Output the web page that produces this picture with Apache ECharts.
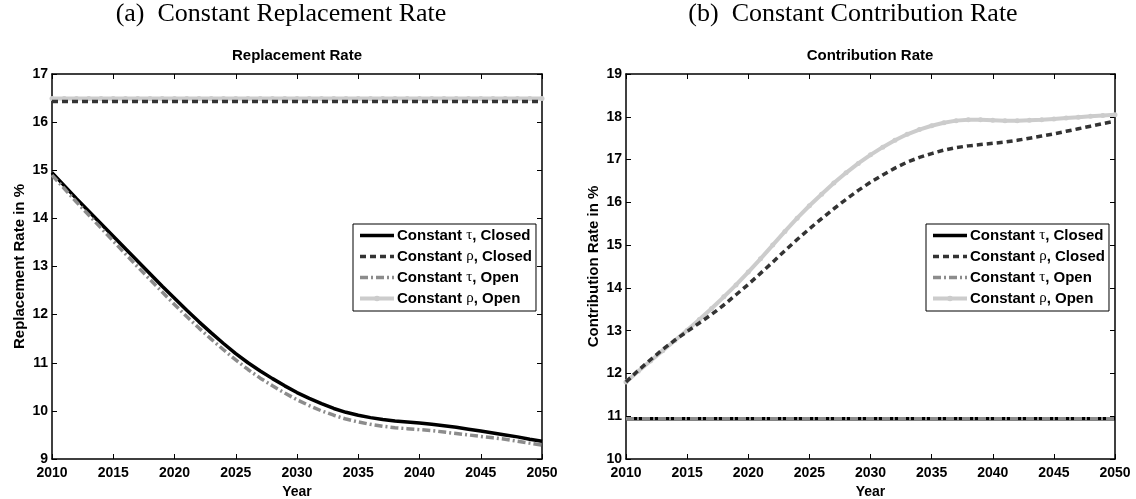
<!DOCTYPE html>
<html lang="en">
<head>
  <meta charset="UTF-8" />
  <title>Replacement and Contribution Rate</title>
  <script src="https://cdn.jsdelivr.net/npm/echarts@6/dist/echarts.min.js"></script>
  <style>
    html, body { margin: 0; padding: 0; background: #fff; }
    #chart { width: 1136px; height: 499px; }
  </style>
</head>
<body>
  <div id="chart"></div>
<script type="text/javascript">
  // years 2010..2050
  var years = [];
  for (var y = 2010; y <= 2050; y++) years.push(y);

  // (a) replacement rate, %
  var repTauClosed = [14.95, 14.68, 14.41, 14.15, 13.89, 13.63, 13.37, 13.11, 12.85, 12.59,
    12.34, 12.09, 11.85, 11.62, 11.40, 11.19, 11.00, 10.83, 10.67, 10.52,
    10.38, 10.26, 10.15, 10.05, 9.97, 9.91, 9.86, 9.82, 9.79, 9.77,
    9.75, 9.72, 9.69, 9.66, 9.62, 9.58, 9.54, 9.50, 9.46, 9.41, 9.37];
  var repRhoClosed = [16.43, 16.43, 16.43, 16.43, 16.43, 16.43, 16.43, 16.43, 16.43, 16.43,
    16.43, 16.43, 16.43, 16.43, 16.43, 16.43, 16.43, 16.43, 16.43, 16.43,
    16.43, 16.43, 16.43, 16.43, 16.43, 16.43, 16.43, 16.43, 16.43, 16.43,
    16.43, 16.43, 16.43, 16.43, 16.43, 16.43, 16.43, 16.43, 16.43, 16.43, 16.43];
  var repTauOpen = [14.90, 14.62, 14.34, 14.07, 13.80, 13.53, 13.26, 12.99, 12.73, 12.47,
    12.21, 11.96, 11.72, 11.49, 11.27, 11.06, 10.86, 10.68, 10.52, 10.37,
    10.23, 10.11, 10.00, 9.91, 9.83, 9.77, 9.72, 9.68, 9.65, 9.63,
    9.61, 9.59, 9.56, 9.53, 9.50, 9.47, 9.44, 9.41, 9.37, 9.33, 9.29];
  var repRhoOpen = [16.49, 16.49, 16.49, 16.49, 16.49, 16.49, 16.49, 16.49, 16.49, 16.49,
    16.49, 16.49, 16.49, 16.49, 16.49, 16.49, 16.49, 16.49, 16.49, 16.49,
    16.49, 16.49, 16.49, 16.49, 16.49, 16.49, 16.49, 16.49, 16.49, 16.49,
    16.49, 16.49, 16.49, 16.49, 16.49, 16.49, 16.49, 16.49, 16.49, 16.49, 16.49];

  // (b) contribution rate, %
  var conTauClosed = [10.94, 10.94, 10.94, 10.94, 10.94, 10.94, 10.94, 10.94, 10.94, 10.94,
    10.94, 10.94, 10.94, 10.94, 10.94, 10.94, 10.94, 10.94, 10.94, 10.94,
    10.94, 10.94, 10.94, 10.94, 10.94, 10.94, 10.94, 10.94, 10.94, 10.94,
    10.94, 10.94, 10.94, 10.94, 10.94, 10.94, 10.94, 10.94, 10.94, 10.94, 10.94];
  var conRhoClosed = [11.80, 12.07, 12.32, 12.56, 12.78, 12.98, 13.18, 13.38, 13.60, 13.84,
    14.08, 14.34, 14.60, 14.87, 15.13, 15.38, 15.62, 15.85, 16.07, 16.28,
    16.47, 16.64, 16.80, 16.94, 17.05, 17.14, 17.22, 17.28, 17.32, 17.35,
    17.38, 17.41, 17.45, 17.50, 17.55, 17.60, 17.66, 17.72, 17.78, 17.84, 17.90];
  var conTauOpen = [10.94, 10.94, 10.94, 10.94, 10.94, 10.94, 10.94, 10.94, 10.94, 10.94,
    10.94, 10.94, 10.94, 10.94, 10.94, 10.94, 10.94, 10.94, 10.94, 10.94,
    10.94, 10.94, 10.94, 10.94, 10.94, 10.94, 10.94, 10.94, 10.94, 10.94,
    10.94, 10.94, 10.94, 10.94, 10.94, 10.94, 10.94, 10.94, 10.94, 10.94, 10.94];
  var conRhoOpen = [11.80, 12.05, 12.29, 12.53, 12.77, 13.01, 13.26, 13.52, 13.79, 14.07,
    14.37, 14.68, 15.00, 15.32, 15.63, 15.92, 16.19, 16.45, 16.69, 16.91,
    17.11, 17.29, 17.45, 17.59, 17.70, 17.79, 17.86, 17.91, 17.93, 17.93,
    17.92, 17.91, 17.91, 17.92, 17.93, 17.95, 17.97, 17.99, 18.01, 18.03, 18.05];

  var names = ['Constant τ, Closed', 'Constant ρ, Closed', 'Constant τ, Open', 'Constant ρ, Open'];

  function pairs(vals) {
    return years.map(function (yr, i) { return [yr, vals[i]]; });
  }

  var sans = 'Liberation Sans, Arial, sans-serif';
  var serif = 'Liberation Serif, Times New Roman, serif';

  // line looks, same order as names
  var looks = [
    { color: '#000000', width: 3.5, type: 'solid', symbol: 'none' },
    { color: '#333333', width: 3.5, type: [6, 4], symbol: 'none' },
    { color: '#8c8c8c', width: 3.5, type: [8, 3, 2, 3], symbol: 'none' },
    { color: '#cccccc', width: 4, type: 'solid', symbol: 'circle' }
  ];

  function makeSeries(idx, sets) {
    return sets.map(function (vals, k) {
      var lk = looks[k];
      return {
        name: names[k],
        type: 'line',
        xAxisIndex: idx * 2,
        yAxisIndex: idx * 2,
        data: pairs(vals),
        symbol: lk.symbol,
        symbolSize: 5,
        showSymbol: lk.symbol !== 'none',
        itemStyle: { color: lk.color },
        lineStyle: { color: lk.color, width: lk.width, type: lk.type },
        z: k === 3 ? 1 : 2 + k,
        animation: false
      };
    });
  }

  function bottomX(gi) {
    return {
      gridIndex: gi, type: 'value', min: 2010, max: 2050, interval: 5,
      name: 'Year', nameLocation: 'middle', nameGap: 26,
      nameTextStyle: { color: '#000', fontWeight: 'bold', fontSize: 14, fontFamily: sans },
      axisLine: { lineStyle: { color: '#000', width: 1.5 } },
      axisTick: { inside: true, length: 5, lineStyle: { color: '#000' } },
      axisLabel: { color: '#000', fontWeight: 'bold', fontSize: 14, fontFamily: sans, margin: 7,
        formatter: function (v) { return String(v); } },
      splitLine: { show: false }
    };
  }
  function topX(gi) {
    return {
      gridIndex: gi, type: 'value', position: 'top', min: 2010, max: 2050, interval: 5,
      axisLine: { lineStyle: { color: '#000', width: 1.5 } },
      axisTick: { inside: true, length: 5, lineStyle: { color: '#000' } },
      axisLabel: { show: false },
      splitLine: { show: false }
    };
  }
  function leftY(gi, lo, hi, label) {
    return {
      gridIndex: gi, type: 'value', min: lo, max: hi, interval: 1,
      name: label, nameLocation: 'middle', nameGap: 25, nameRotate: 90,
      nameTextStyle: { color: '#000', fontWeight: 'bold', fontSize: 15, fontFamily: sans },
      axisLine: { show: true, lineStyle: { color: '#000', width: 1.5 } },
      axisTick: { show: true, inside: true, length: 5, lineStyle: { color: '#000' } },
      axisLabel: { color: '#000', fontWeight: 'bold', fontSize: 14, fontFamily: sans, margin: 4 },
      splitLine: { show: false }
    };
  }
  function rightY(gi, lo, hi) {
    return {
      gridIndex: gi, type: 'value', position: 'right', min: lo, max: hi, interval: 1,
      axisLine: { show: true, lineStyle: { color: '#000', width: 1.5 } },
      axisTick: { show: true, inside: true, length: 5, lineStyle: { color: '#000' } },
      axisLabel: { show: false },
      splitLine: { show: false }
    };
  }

  function makeLegend(left) {
    // only the last entry keeps its marker in the key
    var items = names.map(function (n, k) {
      var it = { name: n, lineStyle: { width: looks[k].width } };
      if (k !== 3) it.itemStyle = { opacity: 0 };
      return it;
    });
    return {
      orient: 'vertical', left: left, top: 224,
      data: items,
      itemWidth: 34, itemHeight: 7, itemGap: 6,
      padding: [4, 4, 5, 5],
      borderColor: '#000', borderWidth: 1, backgroundColor: '#fff',
      selectedMode: false,
      textStyle: {
        color: '#000', fontWeight: 'bold', fontSize: 15, fontFamily: sans, padding: [0, 0, 0, -2],
        rich: { g: { fontFamily: serif, fontWeight: 'normal', fontSize: 15, color: '#000' } }
      },
      formatter: function (n) { return n.replace(/([τρ])/, '{g|$1}'); }
    };
  }

  var myChart = echarts.init(document.getElementById('chart'), null, { renderer: 'canvas' });

  var option = {
    backgroundColor: '#fff',
    animation: false,
    graphic: [
      { type: 'text', x: 281, y: 14, style: { text: '(a)  Constant Replacement Rate', font: '26px ' + serif, fill: '#000', textAlign: 'center', textVerticalAlign: 'middle' } },
      { type: 'text', x: 853, y: 14, style: { text: '(b)  Constant Contribution Rate', font: '26px ' + serif, fill: '#000', textAlign: 'center', textVerticalAlign: 'middle' } },
      { type: 'text', x: 297, y: 56, style: { text: 'Replacement Rate', font: 'bold 15px ' + sans, fill: '#000', textAlign: 'center', textVerticalAlign: 'middle' } },
      { type: 'text', x: 870, y: 56, style: { text: 'Contribution Rate', font: 'bold 15px ' + sans, fill: '#000', textAlign: 'center', textVerticalAlign: 'middle' } }
    ],
    legend: [makeLegend(353), makeLegend(926)],
    grid: [
      { left: 52, top: 74, width: 490, height: 385, outerBoundsMode: 'none', containLabel: false },
      { left: 626, top: 74, width: 489, height: 385, outerBoundsMode: 'none', containLabel: false }
    ],
    xAxis: [bottomX(0), topX(0), bottomX(1), topX(1)],
    yAxis: [leftY(0, 9, 17, 'Replacement Rate in %'), rightY(0, 9, 17),
            leftY(1, 10, 19, 'Contribution Rate in %'), rightY(1, 10, 19)],
    series: makeSeries(0, [repTauClosed, repRhoClosed, repTauOpen, repRhoOpen])
      .concat(makeSeries(1, [conTauClosed, conRhoClosed, conTauOpen, conRhoOpen]))
  };

  myChart.setOption(option);
</script>
</body>
</html>
